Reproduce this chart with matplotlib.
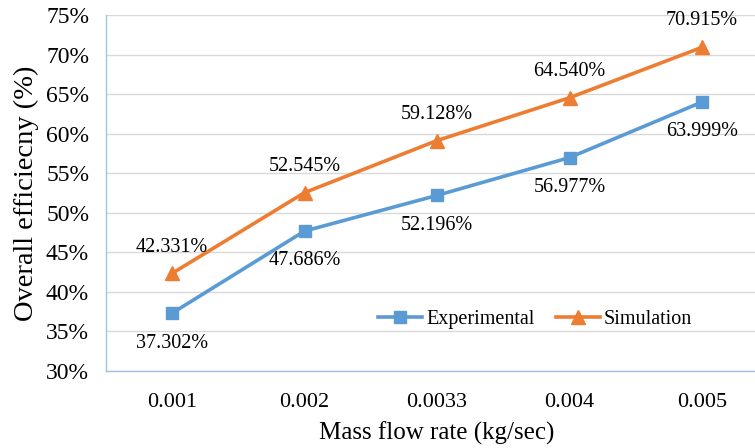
import matplotlib.pyplot as plt
import numpy as np
from matplotlib.ticker import PercentFormatter

plt.rcParams['font.family'] = ['Liberation Serif', 'DejaVu Serif']

flow_rates = ['0.001', '0.002', '0.0033', '0.004', '0.005']
experimental = [37.302, 47.686, 52.196, 56.977, 63.999]
simulation = [42.331, 52.545, 59.128, 64.540, 70.915]

blue = '#5B9BD5'
orange = '#ED7D31'

fig = plt.figure(figsize=(7.55, 4.48), dpi=100)
# plot area runs off the right edge of the figure
ax = fig.add_axes([105.75 / 755, 1 - 371 / 448, 662.5 / 755, 356 / 448])

x = np.arange(len(flow_rates))
ax.plot(x, experimental, color=blue, lw=2.6, marker='s', ms=9, label='Experimental')
ax.plot(x, simulation, color=orange, lw=2.6, marker='^', ms=9.5, label='Simulation')

for xi, v in zip(x, experimental):
    ax.annotate(f'{v:.3f}%', (xi, v), xytext=(0, -21.5), textcoords='offset points',
                ha='center', va='center', fontsize=14.5)
for xi, v in zip(x, simulation):
    ax.annotate(f'{v:.3f}%', (xi, v), xytext=(0, 19), textcoords='offset points',
                ha='center', va='center', fontsize=14.5)

ax.set_xlim(-0.5, 4.5)
ax.set_ylim(30, 75)
ax.set_yticks(np.arange(30, 76, 5))
ax.yaxis.set_major_formatter(PercentFormatter(decimals=0))
ax.set_xticks(x)
ax.set_xticklabels(flow_rates)
ax.tick_params(axis='y', length=0, labelsize=17, pad=12)
ax.tick_params(axis='x', length=0, labelsize=16, pad=16)

ax.grid(axis='y', color='#D9D9D9', lw=1)
ax.set_axisbelow(True)
for side in ['top', 'right']:
    ax.spines[side].set_visible(False)
for side in ['left', 'bottom']:
    ax.spines[side].set_color('#9DC3E6')
    ax.spines[side].set_linewidth(1)

ax.set_xlabel('Mass flow rate (kg/sec)', fontsize=18, labelpad=7)
ax.set_ylabel('Overall efficiecny (%)', fontsize=20.5, labelpad=5)

ax.legend(loc='center', bbox_to_anchor=(535 / 755, 1 - 319 / 448),
          bbox_transform=fig.transFigure, ncol=2, frameon=False, fontsize=14.5,
          handlelength=2.2, columnspacing=1.05, handletextpad=0.2)

fig.savefig('out.png', dpi=100)
